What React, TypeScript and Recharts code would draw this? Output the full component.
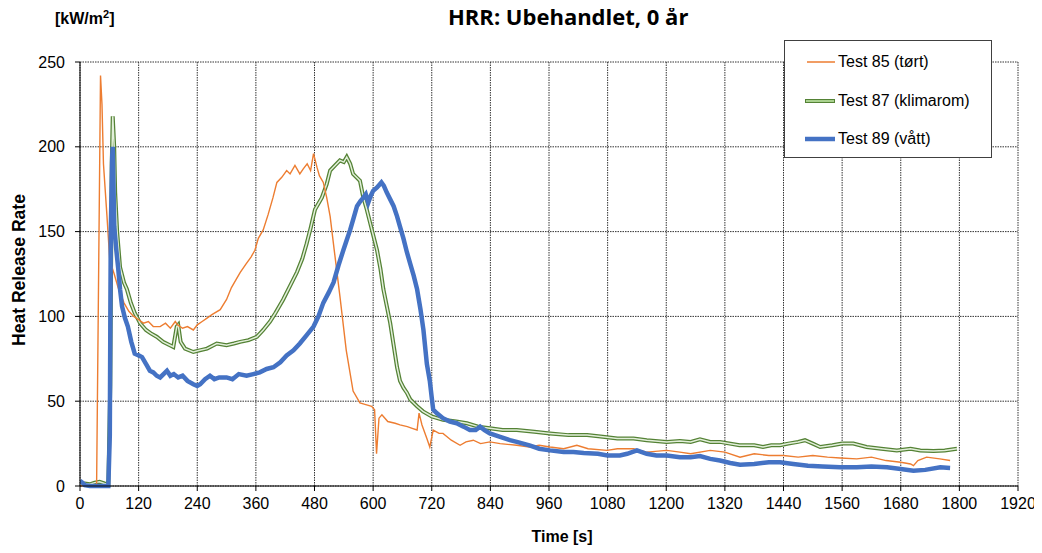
import React from 'react'
import { LineChart, Line, XAxis, YAxis, CartesianGrid } from 'recharts'

const xTicks = [0, 120, 240, 360, 480, 600, 720, 840, 960, 1080, 1200, 1320, 1440, 1560, 1680, 1800, 1920]
const yTicks = [0, 50, 100, 150, 200, 250]

// Test 85 (tørt)
const t85 = [0, 10, 20, 30, 34, 42, 45, 48, 55, 61, 70, 78, 90, 100, 110, 120, 130, 140, 150, 164, 175, 185, 195, 200, 210, 220, 232, 240, 250, 260, 270, 287, 300, 310, 320, 328, 340, 350, 358, 365, 375, 385, 395, 403, 413, 423, 430, 440, 450, 457, 465, 472, 478, 485, 490, 498, 505, 512, 520, 532, 545, 559, 573, 585, 597, 603, 607, 612, 618, 630, 645, 655, 670, 680, 690, 694, 700, 710, 716, 723, 735, 743, 760, 778, 790, 805, 820, 839, 860, 894, 920, 940, 962, 990, 1017, 1040, 1079, 1100, 1133, 1160, 1201, 1228, 1250, 1290, 1320, 1351, 1380, 1410, 1440, 1470, 1500, 1530, 1556, 1590, 1620, 1650, 1680, 1700, 1706, 1715, 1733, 1760, 1781]
const hrr85 = [0, 0.5, 0, 0.3, 1, 242, 225, 190, 160, 133, 125, 117, 108, 103, 100, 98, 96, 97, 94, 94, 96, 93, 97, 95, 93, 94, 92, 95, 97, 99, 101, 104, 110, 117, 122, 126, 131, 135, 139, 146, 151, 160, 170, 179, 182, 186, 184, 189, 184, 187, 190, 186, 196, 188, 183, 179, 170, 159, 140, 112, 80, 56, 49, 48, 47, 45, 19, 40, 42, 38, 37, 36, 35, 34, 33, 43, 36, 28, 23, 33, 31, 31, 27, 24, 26, 27, 25, 26, 25, 24, 23, 24, 23, 22, 24, 22, 21, 22, 22, 20, 21, 20, 19, 21, 20, 17, 19, 18, 18, 17, 18, 17, 16.5, 16, 17, 15, 14, 13, 12, 15, 17, 16, 15]

// Test 87 (klimarom)
const t87 = [0, 10, 20, 30, 40, 50, 58, 62, 65, 67, 70, 72, 76, 82, 90, 96, 104, 112, 123, 135, 145, 157, 170, 184, 191, 198, 201, 206, 215, 232, 245, 260, 280, 300, 315, 328, 345, 362, 375, 389, 400, 416, 430, 444, 455, 464, 472, 481, 495, 505, 512, 522, 532, 540, 546, 553, 559, 566, 573, 580, 587, 594, 601, 608, 615, 621, 628, 635, 642, 649, 655, 662, 669, 676, 690, 702, 720, 743, 770, 792, 815, 839, 865, 894, 930, 962, 1000, 1038, 1070, 1100, 1133, 1160, 1201, 1228, 1250, 1269, 1290, 1310, 1350, 1380, 1398, 1415, 1433, 1450, 1470, 1484, 1500, 1515, 1540, 1560, 1583, 1610, 1640, 1672, 1700, 1720, 1747, 1770, 1795]
const hrr87 = [1, 1.5, 1, 2, 2.5, 1.5, 1, 60, 190, 218, 200, 173, 150, 129, 120, 116, 108, 102, 96, 92, 90, 88, 85, 83, 82, 94, 95, 85, 81, 79, 80, 81, 84, 83, 84, 85, 86, 88, 92, 97, 102, 110, 118, 126, 134, 143, 152, 163, 170, 178, 186, 189, 192, 191, 194, 190, 184, 182, 180, 170, 163, 155, 147, 139, 128, 116, 106, 96, 83, 70, 62, 58, 55, 51, 47, 44, 41, 39, 38, 37, 35, 34, 33, 33, 32, 31, 30, 30, 29, 28, 28, 27, 26, 26.5, 26, 27.5, 26, 26, 24, 24, 23, 24, 24, 25, 26, 27, 25, 23, 24, 25, 25, 23, 22, 21, 22, 21, 20.6, 21, 22]

// Test 89 (vått)
const t89 = [0, 5, 10, 20, 40, 58, 61, 63, 66, 67, 69, 70, 74, 78, 82, 86, 92, 98, 105, 112, 120, 127, 135, 143, 150, 157, 164, 171, 178, 185, 192, 201, 210, 220, 232, 240, 246, 256, 266, 275, 285, 300, 312, 325, 341, 355, 368, 382, 396, 410, 423, 437, 450, 464, 478, 488, 498, 509, 519, 529, 539, 546, 553, 560, 567, 574, 580, 585, 590, 595, 600, 608, 617, 622, 628, 635, 642, 649, 655, 662, 669, 676, 683, 690, 697, 703, 710, 716, 720, 723, 730, 743, 757, 771, 785, 798, 810, 819, 828, 839, 860, 880, 894, 920, 940, 962, 990, 1010, 1031, 1060, 1080, 1105, 1120, 1140, 1160, 1180, 1201, 1228, 1250, 1269, 1290, 1310, 1331, 1351, 1380, 1410, 1433, 1460, 1490, 1520, 1556, 1590, 1620, 1652, 1680, 1706, 1730, 1761, 1781]
const hrr89 = [3, 2, 0.5, 0, 0, 0, 30, 150, 195, 200, 170, 153, 140, 129, 116, 106, 99, 94, 85, 78, 77, 76, 72, 68, 67, 65, 64, 66, 68, 65, 66, 64, 65, 62, 60, 59, 60, 63, 65, 63, 64, 64, 63, 66, 65, 66, 67, 69, 70, 73, 77, 80, 84, 89, 94, 100, 108, 114, 120, 130, 139, 145, 151, 158, 165, 168, 170, 172, 167, 171, 174, 176, 179, 177, 173, 169, 165, 159, 153, 146, 138, 131, 124, 116, 104, 92, 72, 62, 52, 45, 43, 40, 38, 37, 35, 33, 33, 35, 33, 31, 29, 27, 26, 24, 22, 21, 20, 20, 19.5, 19, 18, 18, 19, 21, 19, 18, 18, 17, 17, 17.7, 16, 15, 13.6, 12.5, 13, 14, 14, 13, 12, 11.5, 11, 11, 11.5, 11, 10, 9, 9.5, 11, 10.6]

const toRows = (t: number[], v: number[]) => t.map((x, i) => ({ time: x, hrr: v[i] }))
const data85 = toRows(t85, hrr85)
const data87 = toRows(t87, hrr87)
const data89 = toRows(t89, hrr89)

const legendItems = [
  { name: 'Test 85 (tørt)', kind: 'thin' },
  { name: 'Test 87 (klimarom)', kind: 'double' },
  { name: 'Test 89 (vått)', kind: 'thick' }
]

const font = '"Liberation Sans", Arial, sans-serif'

const LegendBox = () => (
  <div
    style={{
      position: 'absolute',
      left: 784,
      top: 40,
      width: 208,
      height: 118,
      border: '1px solid #404040',
      background: '#fff',
      fontFamily: font,
      fontSize: 16,
      color: '#000',
      boxSizing: 'border-box',
      paddingTop: 2
    }}
  >
    {legendItems.map((item, i) => (
      <div key={i} style={{ display: 'flex', alignItems: 'center', height: 38.5, paddingLeft: 20 }}>
        <svg width={30} height={10} style={{ marginRight: 3 }}>
          {item.kind === 'thin' && <line x1={2} y1={5} x2={30} y2={5} stroke="#ED7D31" strokeWidth={1.5} />}
          {item.kind === 'double' && (
            <>
              <line x1={0} y1={5} x2={30} y2={5} stroke="#548235" strokeWidth={4} />
              <line x1={1} y1={5} x2={29} y2={5} stroke="#A9D18E" strokeWidth={2} />
            </>
          )}
          {item.kind === 'thick' && <line x1={0} y1={5} x2={30} y2={5} stroke="#4472C4" strokeWidth={4.5} />}
        </svg>
        <span>{item.name}</span>
      </div>
    ))}
  </div>
)

export default function App() {
  return (
    <div style={{ position: 'relative', width: 1042, height: 553, margin: -8, background: '#fff' }}>
      <LineChart width={1042} height={553} margin={{ top: 62, right: 24, bottom: 37, left: 0 }}>
        <CartesianGrid stroke="#333" strokeDasharray="1.5 1" strokeWidth={1} />
        <XAxis
          type="number"
          dataKey="time"
          domain={[0, 1920]}
          ticks={xTicks}
          height={30}
          stroke="#000"
          tickSize={5}
          tick={{ fill: '#000', fontSize: 16, fontFamily: font }}
          tickMargin={7}
          allowDataOverflow
        />
        <YAxis
          type="number"
          domain={[0, 250]}
          ticks={yTicks}
          width={80}
          stroke="#000"
          tickSize={5}
          tick={{ fill: '#000', fontSize: 16, fontFamily: font }}
          tickMargin={10}
        />
        <Line
          data={data87}
          dataKey="hrr"
          type="linear"
          stroke="#548235"
          strokeWidth={4}
          dot={false}
          isAnimationActive={false}
        />
        <Line
          data={data87}
          dataKey="hrr"
          type="linear"
          stroke="#E2EFDA"
          strokeWidth={1.5}
          dot={false}
          isAnimationActive={false}
        />
        <Line
          data={data85}
          dataKey="hrr"
          type="linear"
          stroke="#ED7D31"
          strokeWidth={1.4}
          dot={false}
          isAnimationActive={false}
        />
        <Line
          data={data89}
          dataKey="hrr"
          type="linear"
          stroke="#4472C4"
          strokeWidth={4.5}
          dot={false}
          isAnimationActive={false}
        />
      </LineChart>
      <LegendBox />
      <div
        style={{
          position: 'absolute',
          left: 448,
          top: 1,
          whiteSpace: 'nowrap',
          fontFamily: '"Open Sans", sans-serif',
          fontWeight: 700,
          fontSize: 22
        }}
      >
        HRR: Ubehandlet, 0 år
      </div>
      <div
        style={{
          position: 'absolute',
          left: 55,
          top: 8,
          fontFamily: font,
          fontWeight: 700,
          fontSize: 16
        }}
      >
        [kW/m<sup style={{ fontSize: 11 }}>2</sup>]
      </div>
      <div
        style={{
          position: 'absolute',
          left: 19,
          top: 270,
          transform: 'translate(-50%, -50%) rotate(-90deg)',
          whiteSpace: 'nowrap',
          fontFamily: font,
          fontWeight: 700,
          fontSize: 17.5
        }}
      >
        Heat Release Rate
      </div>
      <div
        style={{
          position: 'absolute',
          left: 562,
          top: 537,
          transform: 'translate(-50%, -50%)',
          whiteSpace: 'nowrap',
          fontFamily: font,
          fontWeight: 700,
          fontSize: 16
        }}
      >
        Time [s]
      </div>
    </div>
  )
}
